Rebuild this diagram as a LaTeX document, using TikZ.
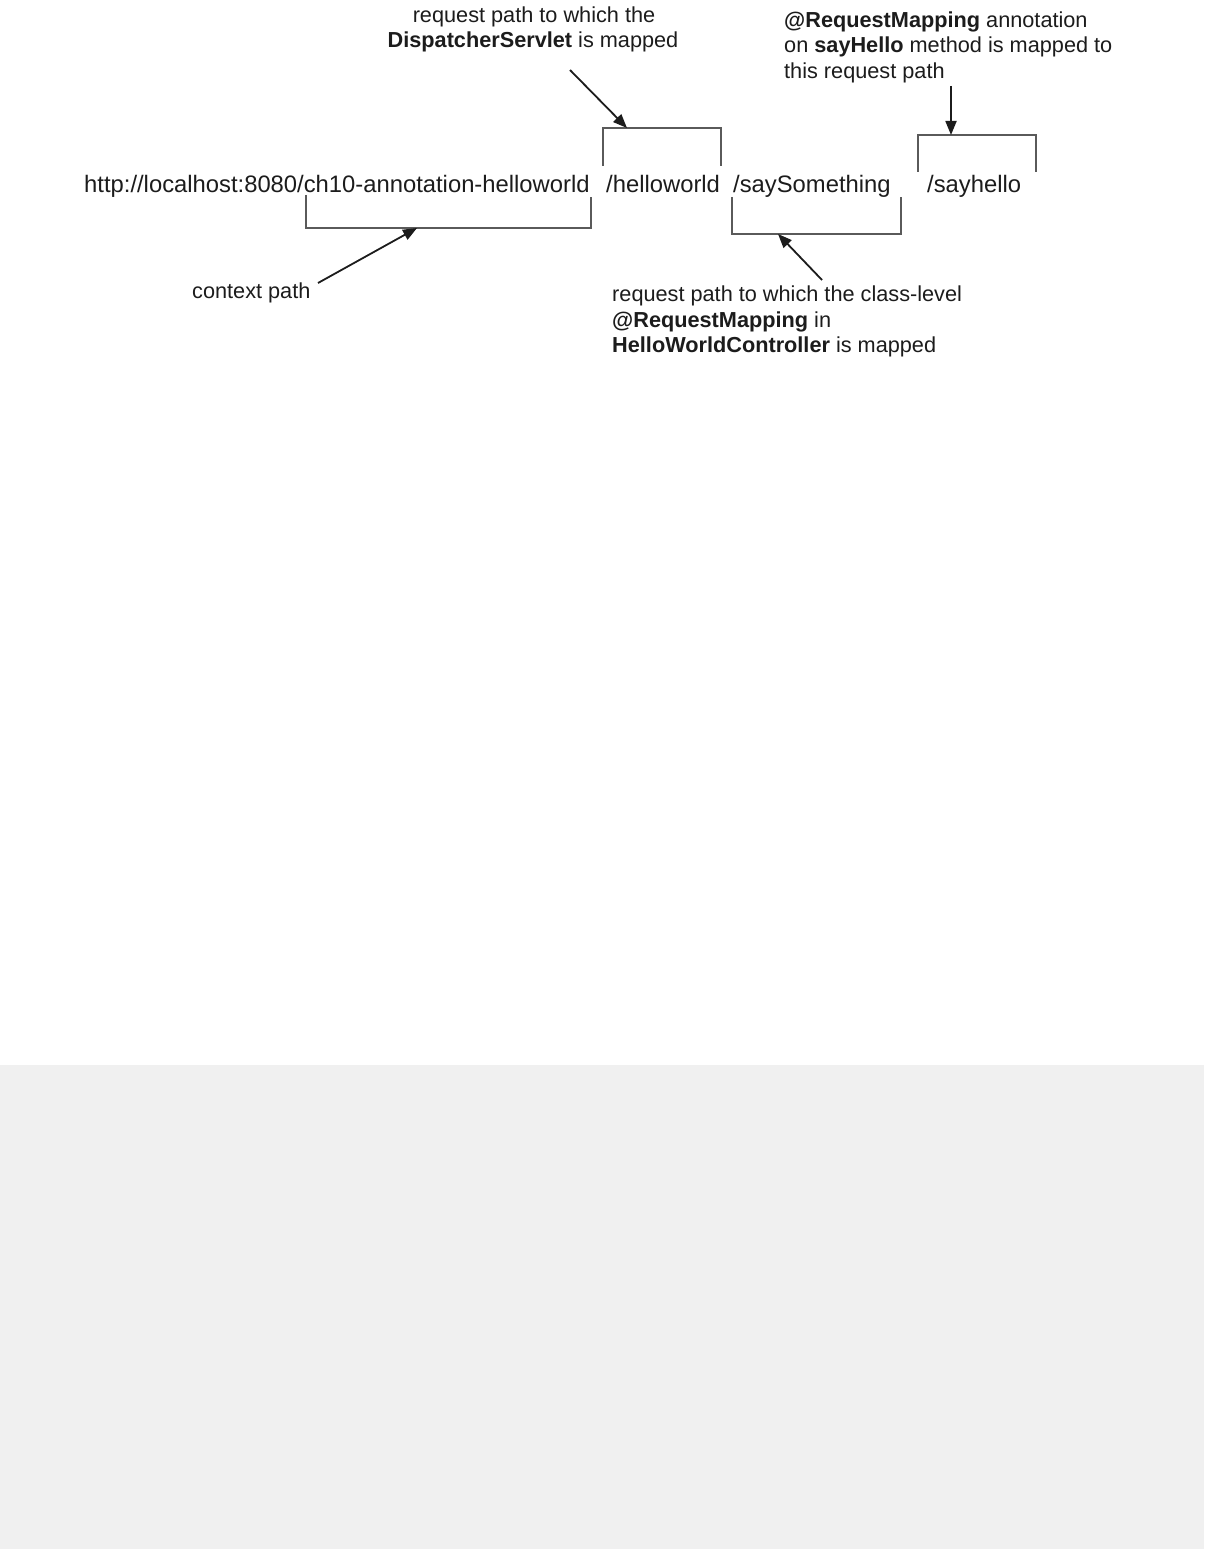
\documentclass[tikz,border=0pt]{standalone}
\usepackage{fontspec}
\setmainfont{Liberation Sans}
\usetikzlibrary{arrows.meta}
\definecolor{txt}{HTML}{1C1C1C}
\definecolor{brk}{HTML}{5A5A5A}
\definecolor{bg}{HTML}{F0F0F0}
\tikzset{
  note/.style={inner sep=0pt, anchor=base west, text=txt, font=\fontsize{21.7}{26}\selectfont},
  notec/.style={note, anchor=base},
  path/.style={inner sep=0pt, anchor=base west, text=txt, font=\fontsize{23.8}{28}\selectfont},
  bracket/.style={draw=brk, line width=1.6pt},
  pointer/.style={draw=txt, line width=1.8pt, -{Triangle[length=14pt,width=11pt]}}
}
\begin{document}
\begin{tikzpicture}[x=1pt,y=-1pt]
\useasboundingbox (0,0) rectangle (1204,1549);
\fill[white] (0,0) rectangle (1204,1065);
\fill[bg] (0,1065) rectangle (1204,1549);
% path pieces
\node[path] (url) at (84,193) {http://localhost:8080/ch10-annotation-helloworld};
\node[path] (hw) at (606,193) {/helloworld};
\node[path] (ss) at (733,193) {/saySomething};
\node[path] (sh) at (927,193) {/sayhello};
% annotations
\node[notec] (ds1) at (534,23) {request path to which the};
\node[notec] (ds2) at (533,48) {\textbf{DispatcherServlet} is mapped};
\node[note] (rm1) at (784,28) {\textbf{@RequestMapping} annotation};
\node[note] (rm2) at (784,53) {on \textbf{sayHello} method is mapped to};
\node[note] (rm3) at (784,79) {this request path};
\node[note] (cp) at (192,298) {context path};
\node[note] (cl1) at (612,301) {request path to which the class-level};
\node[note] (cl2) at (612,327) {\textbf{@RequestMapping} in};
\node[note] (cl3) at (612,352) {\textbf{HelloWorldController} is mapped};
% brackets
\draw[bracket] (306,195) -- (306,228) -- (591,228) -- (591,197);
\draw[bracket] (603,166) -- (603,128) -- (721,128) -- (721,166);
\draw[bracket] (732,197) -- (732,234) -- (901,234) -- (901,197);
\draw[bracket] (918,172) -- (918,135) -- (1036,135) -- (1036,172);
% arrow ends
\coordinate (dsT) at (570,70);   \coordinate (dsH) at (627,128);
\coordinate (rmT) at (951,86);   \coordinate (rmH) at (951,135);
\coordinate (cpT) at (318,283);  \coordinate (cpH) at (417,228);
\coordinate (clT) at (822,280);  \coordinate (clH) at (778,234);
\draw[pointer] (dsT) -- (dsH);
\draw[pointer] (rmT) -- (rmH);
\draw[pointer] (cpT) -- (cpH);
\draw[pointer] (clT) -- (clH);
\end{tikzpicture}
\end{document}
